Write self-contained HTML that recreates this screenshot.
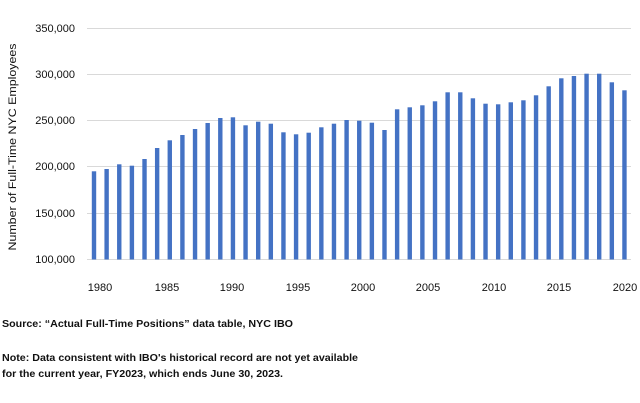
<!DOCTYPE html>
<html><head><meta charset="utf-8"><style>
html,body{margin:0;padding:0;background:#fff;}
svg{display:block;}
text{font-family:"Liberation Sans",Arial,sans-serif;fill:#111;}
</style></head><body>
<svg width="640" height="403" viewBox="0 0 640 403" xmlns="http://www.w3.org/2000/svg">
<g stroke="#d9d9d9" stroke-width="1">
<line x1="87" x2="631" y1="28.5" y2="28.5"/>
<line x1="87" x2="631" y1="74.5" y2="74.5"/>
<line x1="87" x2="631" y1="120.5" y2="120.5"/>
<line x1="87" x2="631" y1="166.5" y2="166.5"/>
<line x1="87" x2="631" y1="213.5" y2="213.5"/>
<line x1="87" x2="631" y1="259.5" y2="259.5"/>
</g>
<g font-size="11" text-anchor="end">
<text x="75" y="32">350,000</text>
<text x="75" y="78">300,000</text>
<text x="75" y="124">250,000</text>
<text x="75" y="170">200,000</text>
<text x="75" y="217">150,000</text>
<text x="75" y="263">100,000</text>
</g>
<text font-size="11" text-anchor="middle" transform="translate(16,147) rotate(-90)" textLength="207" lengthAdjust="spacingAndGlyphs">Number of Full-Time NYC Employees</text>
<g fill="#4472c4">
<rect x="91.8" y="171.3" width="4.4" height="88.2"/>
<rect x="104.43" y="169" width="4.4" height="90.5"/>
<rect x="117.06" y="164.3" width="4.4" height="95.2"/>
<rect x="129.69" y="165.7" width="4.4" height="93.8"/>
<rect x="142.32" y="159" width="4.4" height="100.5"/>
<rect x="154.95" y="148" width="4.4" height="111.5"/>
<rect x="167.58" y="140.3" width="4.4" height="119.2"/>
<rect x="180.21" y="135" width="4.4" height="124.5"/>
<rect x="192.84" y="129" width="4.4" height="130.5"/>
<rect x="205.47" y="123" width="4.4" height="136.5"/>
<rect x="218.1" y="118" width="4.4" height="141.5"/>
<rect x="230.73" y="117.3" width="4.4" height="142.2"/>
<rect x="243.36" y="125.3" width="4.4" height="134.2"/>
<rect x="255.99" y="121.7" width="4.4" height="137.8"/>
<rect x="268.62" y="123.7" width="4.4" height="135.8"/>
<rect x="281.25" y="132.3" width="4.4" height="127.2"/>
<rect x="293.88" y="134.3" width="4.4" height="125.2"/>
<rect x="306.51" y="132.7" width="4.4" height="126.8"/>
<rect x="319.14" y="127.3" width="4.4" height="132.2"/>
<rect x="331.77" y="123.7" width="4.4" height="135.8"/>
<rect x="344.4" y="120" width="4.4" height="139.5"/>
<rect x="357.03" y="120.7" width="4.4" height="138.8"/>
<rect x="369.66" y="122.7" width="4.4" height="136.8"/>
<rect x="382.29" y="130" width="4.4" height="129.5"/>
<rect x="394.92" y="109.3" width="4.4" height="150.2"/>
<rect x="407.55" y="107.3" width="4.4" height="152.2"/>
<rect x="420.18" y="105.3" width="4.4" height="154.2"/>
<rect x="432.81" y="101.3" width="4.4" height="158.2"/>
<rect x="445.44" y="92.3" width="4.4" height="167.2"/>
<rect x="458.07" y="92.3" width="4.4" height="167.2"/>
<rect x="470.7" y="98.3" width="4.4" height="161.2"/>
<rect x="483.33" y="103.7" width="4.4" height="155.8"/>
<rect x="495.96" y="104.3" width="4.4" height="155.2"/>
<rect x="508.59" y="102.3" width="4.4" height="157.2"/>
<rect x="521.22" y="100.3" width="4.4" height="159.2"/>
<rect x="533.85" y="95.3" width="4.4" height="164.2"/>
<rect x="546.48" y="86.3" width="4.4" height="173.2"/>
<rect x="559.11" y="78.3" width="4.4" height="181.2"/>
<rect x="571.74" y="76" width="4.4" height="183.5"/>
<rect x="584.37" y="73.7" width="4.4" height="185.8"/>
<rect x="597" y="73.7" width="4.4" height="185.8"/>
<rect x="609.63" y="82.3" width="4.4" height="177.2"/>
<rect x="622.26" y="90.3" width="4.4" height="169.2"/>
</g>
<g font-size="11" text-anchor="middle">
<text x="100" y="291">1980</text>
<text x="167" y="291">1985</text>
<text x="232" y="291">1990</text>
<text x="298" y="291">1995</text>
<text x="363" y="291">2000</text>
<text x="428" y="291">2005</text>
<text x="494" y="291">2010</text>
<text x="559" y="291">2015</text>
<text x="625" y="291">2020</text>
</g>
<g font-size="10.5" font-weight="bold">
<text x="2" y="327" textLength="291" lengthAdjust="spacingAndGlyphs">Source: “Actual Full-Time Positions” data table, NYC IBO</text>
<text x="2" y="361" textLength="356" lengthAdjust="spacingAndGlyphs">Note: Data consistent with IBO's historical record are not yet available</text>
<text x="2" y="377" textLength="281" lengthAdjust="spacingAndGlyphs">for the current year, FY2023, which ends June 30, 2023.</text>
</g>
</svg>
</body></html>
